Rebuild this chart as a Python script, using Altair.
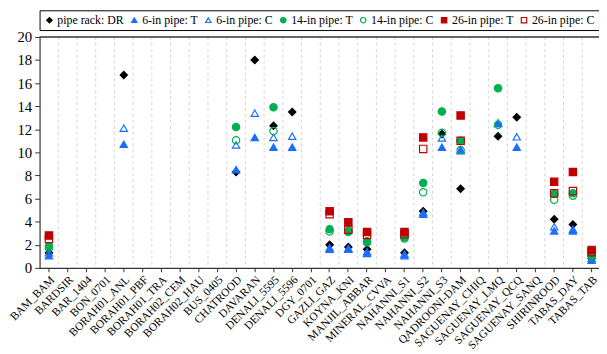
import altair as alt
import pandas as pd

N = None
categories = ["BAM_BAM", "BARDSIR", "BAR_1404", "BON_0701", "BORAH01_ANL", "BORAH01_PBF",
              "BORAH01_TRA", "BORAH02_CEM", "BORAH02_HAU", "BUS_0405", "CHATROOD", "DAVARAN",
              "DENALI_5595", "DENALI_5596", "DGY_0701", "GAZLI_GAZ", "KOYNA_KNI", "MANJIL_ABBAR",
              "MINERAL_CVVA", "NAHANNI_S1", "NAHANNI_S2", "NAHANNI_S3", "QADROONI-DAM",
              "SAGUENAY_CHIQ", "SAGUENAY_LMQ", "SAGUENAY_QCQ", "SAGUENAY_SANQ", "SHIRINROOD",
              "TABAS_DAY", "TABAS_TAB"]

series_names = ["pipe rack: DR", "6-in pipe: T", "6-in pipe: C", "14-in pipe: T",
                "14-in pipe: C", "26-in pipe: T", "26-in pipe: C"]

dr = [1.3, N, N, N, 16.7, N, N, N, N, N, 8.3, 18.0, 12.3, 13.5, N, 2.0, 1.8, 1.6, N, 1.3,
      4.9, 11.6, 6.85, N, 11.4, 13.05, N, 4.2, 3.75, 0.8]
t6 = [1.05, N, N, N, 10.7, N, N, N, N, N, 8.5, 11.3, 10.45, 10.45, N, 1.6, 1.6, 1.25, N, 1.05,
      4.65, 10.45, 10.15, N, 12.5, 10.45, N, 3.2, 3.2, 0.65]
c6 = [1.3, N, N, N, 12.1, N, N, N, N, N, 10.65, 13.4, 11.3, 11.4, N, 1.75, 1.7, 1.4, N, 1.2,
      4.8, 11.25, 10.25, N, 12.55, 11.35, N, 3.55, 3.35, 0.8]
t14 = [1.9, N, N, N, N, N, N, N, N, N, 12.2, N, 13.9, N, N, 3.35, 3.2, 2.3, N, 2.65,
       7.35, 13.55, 11.0, N, 15.55, N, N, 6.4, 6.45, 1.1]
c14 = [1.7, N, N, N, N, N, N, N, N, N, 11.05, N, 11.85, N, N, 3.15, 3.1, 2.2, N, 2.55,
       6.55, 11.7, 10.2, N, 12.4, N, N, 5.9, 6.25, 1.0]
t26 = [2.8, N, N, N, N, N, N, N, N, N, N, N, N, N, N, 4.9, 3.95, 3.1, N, 3.1,
       11.3, N, 13.2, N, N, N, N, 7.45, 8.3, 1.55]
c26 = [2.5, N, N, N, N, N, N, N, N, N, N, N, N, N, N, 4.65, 3.3, 2.85, N, 2.9,
       10.3, N, 11.0, N, N, N, N, 6.45, 6.65, 1.35]

shapes = ["diamond", "triangle-up", "triangle-up", "circle", "circle", "square", "square"]
strokes = ["#000000", "#1a6dff", "#1a6dff", "#00b050", "#00b050", "#c00000", "#c00000"]
fills = ["#000000", "#1a6dff", "transparent", "#00b050", "transparent", "#c00000", "transparent"]

rows = []
for name, vals in zip(series_names, [dr, t6, c6, t14, c14, t26, c26]):
    for cat, v in zip(categories, vals):
        if v is not None:
            rows.append({"cat": cat, "value": v, "series": name})
df = pd.DataFrame(rows)
cat_df = pd.DataFrame({"cat": categories})

FONT = "'Liberation Serif', 'Times New Roman', 'DejaVu Serif', serif"
xscale = alt.Scale(type="band", domain=categories, range=[0, 569], paddingInner=0, paddingOuter=0)
xaxis = alt.Axis(title=None, labelAngle=-45, labelFont=FONT, labelFontSize=11.5, labelColor="#000",
                 grid=False, domainColor="#333", domainWidth=1.2, tickColor="#333", tickSize=4,
                 labelPadding=2, labelOverlap=False)

grid = alt.Chart(cat_df).mark_rule(color="#d4d4d4", strokeDash=[3, 3], strokeWidth=1).encode(
    x=alt.X("cat:N", scale=xscale, axis=xaxis, bandPosition=1)
)

top = alt.Chart(alt.Data(values=[{}])).mark_rule(color="#333", strokeWidth=1.5).encode(
    x=alt.value(0), x2=alt.value(600), y=alt.value(0)
)

points = alt.Chart(df).mark_point(size=55, strokeWidth=1.2, opacity=1, fillOpacity=1).encode(
    x=alt.X("cat:N", scale=xscale, axis=xaxis),
    y=alt.Y("value:Q", scale=alt.Scale(domain=[0, 20], nice=False),
            axis=alt.Axis(title=None, values=list(range(0, 21, 2)), grid=False, labelFont=FONT,
                          labelFontSize=15, labelColor="#000", domainColor="#333", domainWidth=1.2,
                          tickColor="#333", tickSize=5, labelPadding=3)),
    shape=alt.Shape("series:N", scale=alt.Scale(domain=series_names, range=shapes)),
    stroke=alt.Stroke("series:N", scale=alt.Scale(domain=series_names, range=strokes)),
    fill=alt.Fill("series:N", scale=alt.Scale(domain=series_names, range=fills)),
)

chart = alt.layer(grid, points, top).properties(
    width=567, height=234,
    autosize=alt.AutoSizeParams(type="none"),
    padding={"left": 32, "top": 27, "right": 0, "bottom": 85},
).configure_view(stroke=None).configure_legend(
    orient="none", legendX=0, legendY=-27, direction="horizontal", title=None,
    strokeColor="#000", strokeWidth=1, fillColor="white", padding=4,
    labelFont=FONT, labelFontSize=12, labelColor="#000", symbolSize=30,
    symbolStrokeWidth=1.2, labelOffset=2, columnPadding=4,
)

chart.save("out.html", embed_options={"renderer": "svg", "actions": False})
